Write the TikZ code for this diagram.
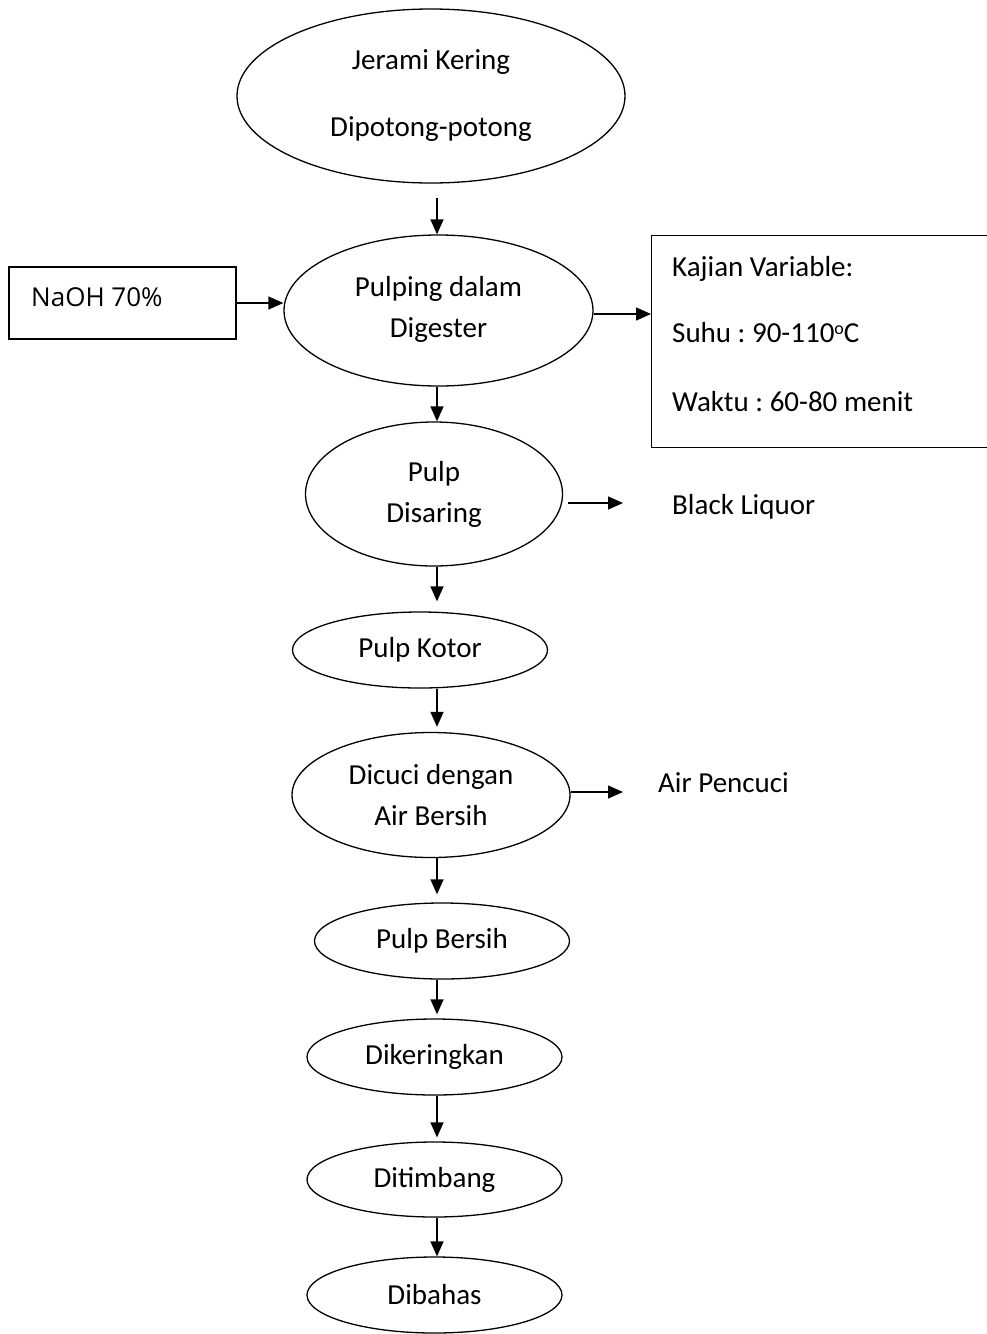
\documentclass[tikz,border=0pt]{standalone}
\usepackage{fontspec}
\setmainfont{Carlito}
\newfontfamily\naohfont{Open Sans}
\usetikzlibrary{shapes.geometric,arrows.meta}
\frenchspacing
\tikzset{
  proc/.style={draw, ellipse, line width=1.3pt, inner sep=0pt, align=center,
    font=\fontsize{29}{41}\selectfont},
  boxed/.style={draw, rectangle, line width=1.3pt, inner sep=0pt},
  arr/.style={-{Triangle[length=15pt,width=13pt]}, line width=1.4pt},
  lbl/.style={anchor=base west, inner sep=0pt, font=\fontsize{29}{34}\selectfont}
}
\begin{document}
\begin{tikzpicture}[x=1pt,y=-1pt]
\useasboundingbox[fill=white] (0,0) rectangle (987,1334);
\coordinate (ax) at (437,0);
% main process ellipses
\node[proc, minimum width=388pt, minimum height=174pt] (jer) at (431,96) {Jerami Kering\\[26pt]Dipotong-potong};
\node[proc, minimum width=309pt, minimum height=151pt] (pulp) at (438.5,310.5) {Pulping dalam\\Digester\\[-33pt]\mbox{}};
\node[proc, minimum width=257pt, minimum height=144pt] (dis) at (434,494) {Pulp\\Disaring};
\node[proc, minimum width=255pt, minimum height=76pt] (kot) at (420,650) {Pulp Kotor};
\node[proc, minimum width=278pt, minimum height=125pt] (cuc) at (431,795) {Dicuci dengan\\Air Bersih};
\node[proc, minimum width=255pt, minimum height=76pt] (ber) at (442,941) {Pulp Bersih};
\node[proc, minimum width=255pt, minimum height=76pt] (ker) at (434.5,1057) {Dikeringkan};
\node[proc, minimum width=255pt, minimum height=75pt] (tim) at (434.5,1179.5) {Ditimbang};
\node[proc, minimum width=255pt, minimum height=76pt] (bah) at (434.5,1295) {Dibahas};
% vertical arrows
\draw[arr, shorten <=14pt] (jer.south -| ax) -- (pulp.north -| ax);
\draw[arr] (pulp.south -| ax) -- (dis.north -| ax);
\draw[arr, shorten >=10pt] (dis.south -| ax) -- (kot.north -| ax);
\draw[arr, shorten >=5pt] (kot.south -| ax) -- (cuc.north -| ax);
\draw[arr, shorten >=8pt] (cuc.south -| ax) -- (ber.north -| ax);
\draw[arr, shorten >=4pt] (ber.south -| ax) -- (ker.north -| ax);
\draw[arr, shorten >=4pt] (ker.south -| ax) -- (tim.north -| ax);
\draw[arr] (tim.south -| ax) -- (bah.north -| ax);
% NaOH input
\node[boxed, minimum width=227pt, minimum height=72pt] (naoh) at (122.5,303) {};
\node[anchor=west, inner sep=0pt, font=\naohfont\fontsize{26}{30}\selectfont] (naohT) at (31,297) {NaOH 70\%};
\draw[arr] (naoh.east) -- (naoh.east -| pulp.west);
% Kajian variable box
\node[boxed, anchor=north west, minimum width=350pt, minimum height=212pt] (kaj) at (651,235) {};
\coordinate (ky) at (0,314);
\draw[arr] (pulp.east |- ky) -- (kaj.west |- ky);
\node[lbl] (k1) at (672,276) {Kajian Variable:};
\node[lbl] (k2) at (672,342) {Suhu : 90-110{\fontsize{18}{20}\selectfont\raisebox{8pt}{o}}C};
\node[lbl] (k3) at (672,411) {Waktu : 60-80 menit};
% outputs
\node[lbl] (bl) at (672,514) {Black Liquor};
\coordinate (blend) at (623,503);
\draw[arr, shorten <=5pt] (dis.east |- blend) -- (blend);
\node[lbl] (ap) at (658,792) {Air Pencuci};
\coordinate (apend) at (623,792);
\draw[arr] (cuc.east |- apend) -- (apend);
\end{tikzpicture}
\end{document}
